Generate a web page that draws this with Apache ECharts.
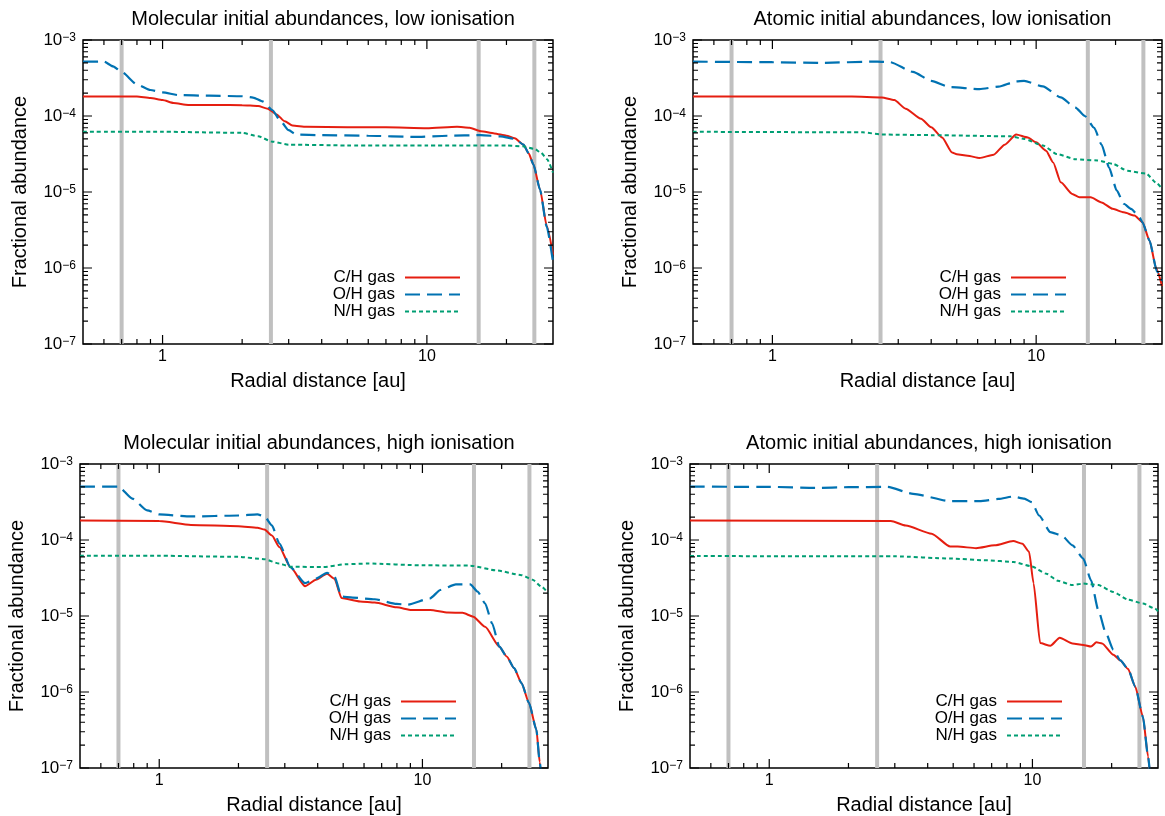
<!DOCTYPE html>
<html><head><meta charset="utf-8">
<script src="https://cdn.jsdelivr.net/npm/echarts@6/dist/echarts.min.js"></script>
<style>html,body{margin:0;padding:0;background:#fff}#c{width:1165px;height:816px}</style>
</head><body><div id="c"></div>
<script>
// ---------------- data ----------------
const panelTitles = [
  'Molecular initial abundances, low ionisation',
  'Atomic initial abundances, low ionisation',
  'Molecular initial abundances, high ionisation',
  'Atomic initial abundances, high ionisation'
];
const seriesNames = ['C/H gas', 'O/H gas', 'N/H gas'];
const xTickLabels = [1, 10];
const yTickLabels = [1e-7, 1e-6, 1e-5, 1e-4, 1e-3];
const iceLines = [0.7, 2.57, 15.7, 25.5];   // grey vertical lines [au]

// Molecular, low ionisation
const molLowC = [[0.5,1.8e-4],[0.8,1.8e-4],[0.9,1.72e-4],[1.0,1.62e-4],[1.1,1.48e-4],[1.25,1.4e-4],[1.6,1.4e-4],[2.0,1.39e-4],[2.3,1.35e-4],[2.5,1.25e-4],[2.7,1.05e-4],[2.9,8.5e-5],[3.1,7.5e-5],[3.5,7.2e-5],[5,7.1e-5],[7,7.1e-5],[10,6.9e-5],[13,7.2e-5],[14.5,7.0e-5],[16,6.3e-5],[18,5.9e-5],[20,5.5e-5],[21.5,5.1e-5],[23.2,4.2e-5],[24.3,3.2e-5],[25.3,2.3e-5],[26.8,1.07e-5],[28.4,3.6e-6],[30,1.5e-6]];
const molLowO = [[0.5,5.2e-4],[0.6,5.2e-4],[0.65,4.5e-4],[0.7,3.8e-4],[0.8,2.6e-4],[0.9,2.2e-4],[1.0,2.05e-4],[1.15,1.88e-4],[1.5,1.85e-4],[2.0,1.82e-4],[2.2,1.75e-4],[2.4,1.55e-4],[2.6,1.2e-4],[2.8,8.5e-5],[3.0,6.5e-5],[3.2,5.7e-5],[4,5.6e-5],[6,5.5e-5],[9,5.3e-5],[12,5.5e-5],[16,5.6e-5],[19,5.4e-5],[21.5,5.0e-5],[23.2,4.2e-5],[24.3,3.2e-5],[25.3,2.3e-5],[26.8,1.07e-5],[28.4,3.5e-6],[30,1.2e-6]];
const molLowN = [[0.5,6.2e-5],[1,6.2e-5],[2,6.0e-5],[2.3,5.4e-5],[2.6,4.6e-5],[3.0,4.2e-5],[5,4.1e-5],[10,4.1e-5],[20,4.1e-5],[23,4.0e-5],[25.5,3.7e-5],[27,3.3e-5],[28.5,2.7e-5],[30,1.8e-5]];

// Atomic, low ionisation
const atLowC = [[0.5,1.8e-4],[1,1.8e-4],[2,1.8e-4],[2.6,1.75e-4],[2.9,1.62e-4],[3.2,1.25e-4],[3.66,9.2e-5],[4.0,7.1e-5],[4.4,5.2e-5],[4.8,3.3e-5],[5.0,3.15e-5],[5.5,3.0e-5],[6.1,2.8e-5],[6.9,3.1e-5],[7.6,4.2e-5],[8.4,5.7e-5],[9.3,5.2e-5],[10,4.5e-5],[10.9,3.5e-5],[11.6,2.45e-5],[12.4,1.34e-5],[13.7,9.4e-6],[14.6,8.5e-6],[16.1,8.5e-6],[17.7,7.3e-6],[19.5,6.0e-6],[21.5,5.4e-6],[23.6,4.9e-6],[25.3,4.0e-6],[26.9,2.3e-6],[28.5,1.0e-6],[30,5.8e-7]];
const atLowO = [[0.5,5.2e-4],[1,5.1e-4],[1.5,5.0e-4],[2.5,5.2e-4],[2.8,5.1e-4],[3.41,3.8e-4],[4.0,2.9e-4],[4.7,2.4e-4],[6.1,2.26e-4],[7.2,2.43e-4],[8.4,2.85e-4],[9.0,2.9e-4],[10.6,2.45e-4],[12.4,1.76e-4],[14.1,1.29e-4],[15.3,1.0e-4],[16.6,7.0e-5],[17.7,4.2e-5],[18.9,2.1e-5],[20.2,1.05e-5],[21.5,7.0e-6],[22.9,6.0e-6],[24.5,4.8e-6],[25.3,4.0e-6],[26.9,2.3e-6],[28.7,9.0e-7],[30,6.8e-7]];
const atLowN = [[0.5,6.2e-5],[2.2,6.1e-5],[2.6,5.7e-5],[4,5.6e-5],[8,5.4e-5],[9,5.0e-5],[10.6,4.1e-5],[12,3.15e-5],[14.1,2.7e-5],[17.1,2.6e-5],[19.5,2.35e-5],[22.2,1.9e-5],[26.1,1.75e-5],[28.7,1.3e-5],[30,1.1e-5]];

// Molecular, high ionisation
const molHighC = [[0.5,1.81e-4],[1.0,1.78e-4],[1.32,1.58e-4],[2.0,1.52e-4],[2.36,1.45e-4],[2.51,1.37e-4],[2.68,1.15e-4],[2.86,8.1e-5],[3.15,4.4e-5],[3.58,2.47e-5],[3.94,3.0e-5],[4.34,3.6e-5],[4.63,3.1e-5],[4.93,1.72e-5],[5.8,1.55e-5],[6.59,1.5e-5],[7.98,1.3e-5],[9.1,1.2e-5],[10.7,1.2e-5],[12.5,1.11e-5],[14.2,1.1e-5],[15.6,9.8e-6],[17.3,7.2e-6],[19.6,3.95e-6],[20.9,2.93e-6],[22.3,2.06e-6],[23.8,1.31e-6],[25.4,7.2e-7],[27.1,3.2e-7],[27.9,1.2e-7],[28.5,6e-8]];
const molHighO = [[0.5,5.05e-4],[0.7,5.05e-4],[0.79,3.5e-4],[0.9,2.45e-4],[1.0,2.17e-4],[1.32,2.04e-4],[2.0,2.1e-4],[2.36,2.17e-4],[2.51,2.05e-4],[2.68,1.56e-4],[2.86,9.0e-5],[3.15,4.4e-5],[3.58,2.7e-5],[3.94,3.1e-5],[4.34,3.7e-5],[4.63,3.3e-5],[4.93,1.8e-5],[5.43,1.75e-5],[6.59,1.66e-5],[7.98,1.44e-5],[8.79,1.41e-5],[10.7,1.71e-5],[11.7,2.2e-5],[13.4,2.6e-5],[15.2,2.6e-5],[16.2,2.1e-5],[17.3,1.47e-5],[18.4,8.0e-6],[19.6,3.95e-6],[20.9,2.93e-6],[22.3,2.06e-6],[23.8,1.31e-6],[25.4,7.2e-7],[27.1,3.2e-7],[27.9,1.2e-7],[28.5,6e-8]];
const molHighN = [[0.5,6.2e-5],[1,6.2e-5],[2,6.0e-5],[2.5,5.6e-5],[2.86,4.9e-5],[3.15,4.45e-5],[4.2,4.4e-5],[5.1,4.8e-5],[6.2,4.9e-5],[10,4.65e-5],[15.2,4.6e-5],[19,4.0e-5],[23.8,3.45e-5],[26.2,3.0e-5],[28.5,2.4e-5],[30,2.0e-5]];

// Atomic, high ionisation
const atHighC = [[0.5,1.81e-4],[2.9,1.78e-4],[3.3,1.55e-4],[4.14,1.21e-4],[4.87,8.2e-5],[5.2,8.2e-5],[6.11,7.8e-5],[7.19,8.5e-5],[8.45,9.7e-5],[9.16,8.9e-5],[9.71,7.0e-5],[10.1,2.7e-5],[10.7,4.4e-6],[11.7,4.06e-6],[12.7,5.17e-6],[14.2,4.36e-6],[15.6,4.16e-6],[16.7,3.96e-6],[17.5,4.5e-6],[18.4,4.36e-6],[20.3,3.1e-6],[21.6,2.6e-6],[23.1,2.0e-6],[24.6,1.17e-6],[26.3,4.7e-7],[27.5,1.42e-7],[28.2,6e-8]];
const atHighO = [[0.5,5.04e-4],[1,5.0e-4],[1.5,4.85e-4],[2.0,4.95e-4],[2.81,5.0e-4],[3.52,4.05e-4],[4.87,3.24e-4],[6.3,3.24e-4],[7.43,3.47e-4],[8.45,3.73e-4],[9.31,3.5e-4],[9.94,3.15e-4],[10.6,2.1e-4],[11.7,1.27e-4],[12.9,1.15e-4],[14.2,8.5e-5],[15.6,5.7e-5],[16.7,2.95e-5],[17.8,1.19e-5],[19.0,6.0e-6],[20.3,3.6e-6],[21.6,2.6e-6],[23.1,2.0e-6],[24.6,1.17e-6],[26.3,4.7e-7],[27.5,1.42e-7],[28.2,6e-8]];
const atHighN = [[0.5,6.15e-5],[3.0,6.1e-5],[4.87,5.7e-5],[6.74,5.4e-5],[8.45,5.15e-5],[9.94,4.5e-5],[11.3,3.6e-5],[12.5,2.9e-5],[14.2,2.55e-5],[15.6,2.67e-5],[17.8,2.55e-5],[20.3,2.07e-5],[23.1,1.64e-5],[26.3,1.46e-5],[29.2,1.25e-5],[30,1.15e-5]];

// ---------------- layout / style ----------------
const FONT = '"Liberation Sans", Arial, Helvetica, sans-serif';
const X_MIN = 0.5, X_MAX = 30, Y_MIN = 1e-7, Y_MAX = 1e-3;
const panelData = [
  [molLowC, molLowO, molLowN],
  [atLowC, atLowO, atLowN],
  [molHighC, molHighO, molHighN],
  [atHighC, atHighO, atHighN]
];
const gridBoxes = [
  {left: 83, top: 40, width: 470, height: 304},
  {left: 693, top: 40, width: 469, height: 304},
  {left: 80, top: 464, width: 468, height: 304},
  {left: 690, top: 464, width: 468, height: 304}
];
const legendRightGap = [92, 95, 91, 95];
const lineStyles = [
  {color: '#e51e10', width: 2, type: 'solid'},
  {color: '#0072b2', width: 2.2, type: [15, 7]},
  {color: '#009e73', width: 2, type: [4, 3]}
];
const TICK_MAJOR = 9, TICK_MINOR = 5;

// minor tick positions (gnuplot-style 2..9 per decade)
const xMinor = [];
[0.1, 1, 10].forEach(d => { for (let k = 2; k <= 9; k++) { const v = +(k * d).toPrecision(3); if (v > X_MIN && v < X_MAX) xMinor.push(v); } });
const yMinor = [];
[1e-7, 1e-6, 1e-5, 1e-4].forEach(d => { for (let k = 2; k <= 9; k++) yMinor.push(+(k * d).toPrecision(3)); });

// Tick marks as short line segments on the log axes; the inward length (px) is
// converted into a multiplicative step along the log axis of each grid.
const GAP = ['-', '-'];
function tickSeries(g, ax) {
  const xDecPx = g.width / Math.log10(X_MAX / X_MIN);
  const yDecPx = g.height / Math.log10(Y_MAX / Y_MIN);
  const fx = len => Math.pow(10, len / xDecPx);
  const fy = len => Math.pow(10, len / yDecPx);
  const bottom = [], top = [], left = [], right = [];
  const addX = (v, len) => {
    bottom.push([v, Y_MIN], [v, Y_MIN * fy(len)], GAP);
    top.push([v, Y_MAX], [v, Y_MAX / fy(len)], GAP);
  };
  const addY = (v, len) => {
    left.push([X_MIN, v], [X_MIN * fx(len), v], GAP);
    right.push([X_MAX, v], [X_MAX / fx(len), v], GAP);
  };
  xTickLabels.forEach(v => addX(v, TICK_MAJOR));
  xMinor.forEach(v => addX(v, TICK_MINOR));
  yTickLabels.forEach(v => addY(v, TICK_MAJOR));
  yMinor.forEach(v => addY(v, TICK_MINOR));
  return [bottom, top, left, right].map(d => ({
    type: 'line', xAxisIndex: ax, yAxisIndex: ax, data: d, symbol: 'none', showSymbol: false,
    connectNulls: false, clip: false, silent: true, z: 6, legendHoverLink: false,
    lineStyle: {color: '#000', width: 1.2}
  }));
}

const grid = [], xAxis = [], yAxis = [], series = [], title = [], legend = [];

gridBoxes.forEach((g, gi) => {
  grid.push(Object.assign({show: true, borderColor: '#000', borderWidth: 1.5, containLabel: false}, g));
  title.push({
    text: panelTitles[gi], left: g.left + g.width / 2, top: g.top - 36, textAlign: 'center',
    textStyle: {fontSize: 20, fontWeight: 'normal', color: '#000', fontFamily: FONT}
  });
  xAxis.push({
    type: 'log', logBase: 10, min: X_MIN, max: X_MAX, gridIndex: gi, position: 'bottom',
    splitLine: {show: false}, axisLine: {show: false}, axisTick: {show: false},
    axisLabel: {customValues: xTickLabels, fontSize: 16, color: '#000', margin: 5, fontFamily: FONT, formatter: v => String(v)},
    name: 'Radial distance [au]', nameLocation: 'middle', nameGap: 27,
    nameTextStyle: {fontSize: 20, color: '#000', fontFamily: FONT}
  });
  yAxis.push({
    type: 'log', logBase: 10, min: Y_MIN, max: Y_MAX, gridIndex: gi, position: 'left',
    splitLine: {show: false}, axisLine: {show: false}, axisTick: {show: false},
    axisLabel: {
      customValues: yTickLabels, margin: 7, color: '#000', fontFamily: FONT,
      formatter: v => '{b|10}{s|\u2212' + Math.round(-Math.log10(v)) + '}',
      rich: {
        b: {fontSize: 17, lineHeight: 17, padding: [4, 0, 0, 0], verticalAlign: 'bottom', color: '#000', fontFamily: FONT},
        s: {fontSize: 12, lineHeight: 12, verticalAlign: 'top', color: '#000', fontFamily: FONT}
      }
    },
    name: 'Fractional abundance', nameLocation: 'middle', nameGap: 53,
    nameTextStyle: {fontSize: 20, color: '#000', fontFamily: FONT}
  });

  // grey vertical lines
  iceLines.forEach(x => {
    series.push({
      type: 'line', xAxisIndex: gi, yAxisIndex: gi, data: [[x, Y_MIN], [x, Y_MAX]],
      symbol: 'none', silent: true, z: 1, lineStyle: {color: '#c0c0c0', width: 4}, legendHoverLink: false
    });
  });
  // abundance curves
  panelData[gi].forEach((d, si) => {
    series.push({
      type: 'line', name: seriesNames[si], xAxisIndex: gi, yAxisIndex: gi, data: d,
      symbol: 'none', showSymbol: false, smooth: 0.2, smoothMonotone: 'x', clip: true, z: 3,
      lineStyle: lineStyles[si], itemStyle: {color: lineStyles[si].color}
    });
  });
  // tick marks (mirrored on all four sides)
  tickSeries(g, gi).forEach(s => series.push(s));

  legend.push({
    orient: 'vertical', align: 'right', padding: 0, itemGap: 0, itemWidth: 55, itemHeight: 2,
    right: 1165 - (g.left + g.width - legendRightGap[gi]),
    top: g.top + g.height - 75,
    selectedMode: false, data: seriesNames,
    itemStyle: {opacity: 0},
    textStyle: {fontSize: 17, lineHeight: 17, color: '#000', fontFamily: FONT, padding: [0, 5, 0, 0]}
  });
});

const chart = echarts.init(document.getElementById('c'), null, {renderer: 'canvas'});
chart.setOption({animation: false, backgroundColor: '#fff', title, grid, xAxis, yAxis, series, legend});
</script></body></html>
